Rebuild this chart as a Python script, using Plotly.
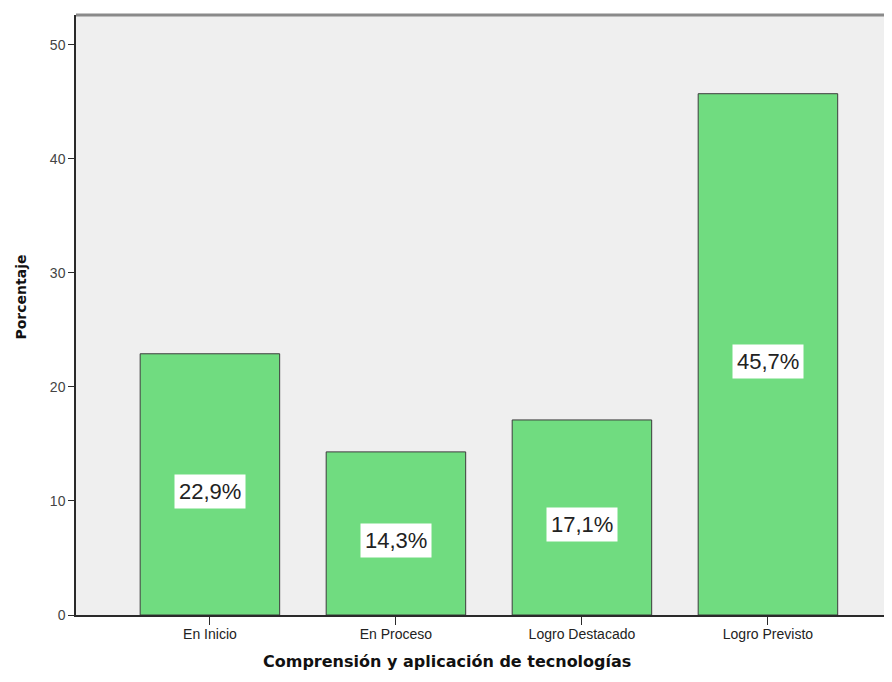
import plotly.graph_objects as go

categories = ["En Inicio", "En Proceso", "Logro Destacado", "Logro Previsto"]
percentages = [22.9, 14.3, 17.1, 45.7]
labels = ["22,9%", "14,3%", "17,1%", "45,7%"]
y_ticks = [0, 10, 20, 30, 40, 50]

fig = go.Figure()
fig.add_trace(go.Bar(
    x=categories,
    y=percentages,
    width=0.75,
    marker=dict(color="#70DC80", line=dict(color="#3c3c3c", width=1)),
    hoverinfo="skip",
))

for cat, val, lab in zip(categories, percentages, labels):
    fig.add_annotation(
        x=cat, y=val / 2 - 0.6, text=lab, showarrow=False,
        bgcolor="white", borderpad=4,
        font=dict(family="Liberation Sans, Arial", size=22, color="#222222"),
    )

# axis titles as annotations: the original centres them on the whole image
fig.add_annotation(
    xref="paper", yref="paper", x=0.455, y=-0.078, yanchor="middle",
    text="<b>Comprensión y aplicación de tecnologías</b>", showarrow=False,
    font=dict(family="DejaVu Sans", size=16, color="#111111"),
)
fig.add_annotation(
    xref="paper", yref="paper", x=-0.068, y=0.53, textangle=-90,
    xanchor="center", yanchor="middle",
    text="<b>Porcentaje</b>", showarrow=False,
    font=dict(family="DejaVu Sans", size=14, color="#111111"),
)

# grey frame line across the top of the plot area
fig.add_shape(type="line", xref="paper", yref="paper", x0=0, x1=1, y0=1, y1=1,
              line=dict(color="#8a8a8a", width=3))

# page body keeps an 8px margin, so the figure is 8px smaller than the window
fig.update_layout(
    width=884, height=674,
    margin=dict(l=68, r=0, t=7, b=67),
    paper_bgcolor="white",
    plot_bgcolor="#EFEFEF",
    showlegend=False,
    font=dict(family="Liberation Sans, Arial", color="#222222"),
)
fig.update_xaxes(
    range=[-0.72, 3.667],
    showline=True, linecolor="#2a2a2a", linewidth=1.5,
    ticks="outside", ticklen=8, tickcolor="#2a2a2a",
    tickfont=dict(size=14), ticklabelstandoff=-3,
    showgrid=False,
)
fig.update_yaxes(
    range=[0, 52.6],
    tickvals=y_ticks,
    showline=True, linecolor="#2a2a2a", linewidth=1.5,
    ticks="outside", ticklen=6, tickcolor="#2a2a2a",
    tickfont=dict(size=14, color="#444444"),
    showgrid=False, zeroline=False,
)

fig.write_html("out.html")
